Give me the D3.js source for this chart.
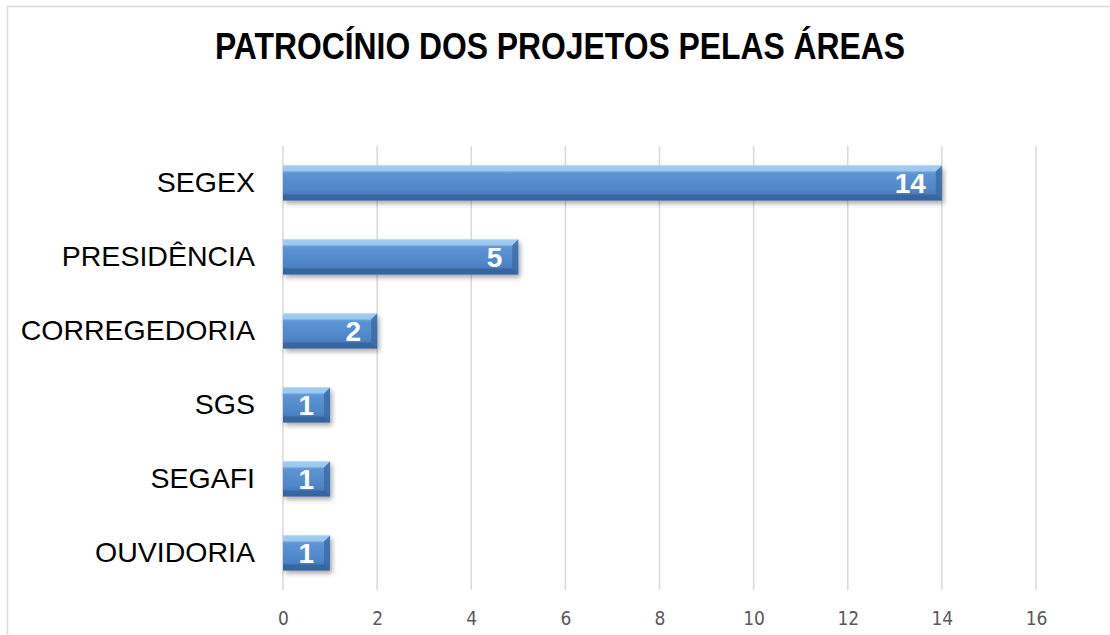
<!DOCTYPE html>
<html>
<head>
<meta charset="utf-8">
<script src="https://cdn.jsdelivr.net/npm/d3@7.9.0/dist/d3.min.js"></script>
<style>
  body { margin: 0; background: #fff; }
  svg { display: block; }
</style>
</head>
<body>
<svg width="1110" height="635"></svg>
<script>
const categories = ['SEGEX', 'PRESIDÊNCIA', 'CORREGEDORIA', 'SGS', 'SEGAFI', 'OUVIDORIA'];
const values = [14, 5, 2, 1, 1, 1];
const xTicks = [0, 2, 4, 6, 8, 10, 12, 14, 16];

const svg = d3.select('svg');

// outer frame
svg.append('rect')
  .attr('x', 7.5).attr('y', 6.5)
  .attr('width', 1110).attr('height', 640)
  .attr('fill', 'none').attr('stroke', '#d9d9d9').attr('stroke-width', 1.5);

svg.append('text')
  .attr('x', 215).attr('y', 59)
  .attr('textLength', 690)
  .attr('lengthAdjust', 'spacingAndGlyphs')
  .style('font-family', 'Liberation Sans, Arial, sans-serif')
  .style('font-weight', 'bold')
  .style('font-size', '36px')
  .text('PATROCÍNIO DOS PROJETOS PELAS ÁREAS');

const plotLeft = 283, plotRight = 1036, plotTop = 146, plotBottom = 590;

let x = d3.scaleLinear().domain([0, 16]).range([plotLeft, plotRight]);
let y = d3.scaleBand().domain(categories).range([plotTop, plotBottom]).paddingInner(0.53).paddingOuter(0.265);

let defs = svg.append('defs');
let grad = defs.append('linearGradient').attr('id', 'barGrad')
  .attr('x1', 0).attr('y1', 0).attr('x2', 0).attr('y2', 1);
grad.append('stop').attr('offset', '0%').attr('stop-color', '#8fbde9');
grad.append('stop').attr('offset', '25%').attr('stop-color', '#5b93d3');
grad.append('stop').attr('offset', '70%').attr('stop-color', '#4f86c8');
grad.append('stop').attr('offset', '100%').attr('stop-color', '#3f70ad');

let shadow = defs.append('filter').attr('id', 'shadow')
  .attr('x', '-10%').attr('y', '-20%').attr('width', '130%').attr('height', '170%');
shadow.append('feDropShadow').attr('dx', 2).attr('dy', 3).attr('stdDeviation', 2.5)
  .attr('flood-color', '#000').attr('flood-opacity', 0.35);

// gridlines
svg.append('g')
  .selectAll('line')
  .data(xTicks)
  .join('line')
  .attr('x1', d => x(d)).attr('x2', d => x(d))
  .attr('y1', plotTop).attr('y2', plotBottom)
  .attr('stroke', '#d9d9d9').attr('stroke-width', 1.5);

// x axis labels
let xAxis = svg.append('g')
  .attr('transform', `translate(0,${plotBottom})`)
  .call(d3.axisBottom(x).tickValues(xTicks).tickSize(0).tickPadding(22));
xAxis.select('.domain').remove();
xAxis.selectAll('text')
  .style('font-family', 'DejaVu Sans Condensed, Liberation Sans Narrow, sans-serif')
  .style('font-size', '19px')
  .attr('fill', '#595959');

// y labels
let yAxis = svg.append('g')
  .attr('transform', `translate(${plotLeft},0)`)
  .call(d3.axisLeft(y).tickSize(0).tickPadding(28));
yAxis.select('.domain').remove();
yAxis.selectAll('text')
  .style('font-family', 'Liberation Sans, Arial, sans-serif')
  .style('font-size', '28.5px')
  .attr('fill', '#000');

// bars with bevel
let bars = svg.append('g').selectAll('g')
  .data(categories.map((c, i) => ({ cat: c, val: values[i] })))
  .join('g');

const bev = 6;
bars.append('rect')
  .attr('x', x(0))
  .attr('y', d => y(d.cat))
  .attr('width', d => x(d.val) - x(0))
  .attr('height', y.bandwidth())
  .attr('fill', 'url(#barGrad)')
  .attr('filter', 'url(#shadow)');

// top bevel highlight
bars.append('path')
  .attr('d', d => {
    let x0 = x(0), x1 = x(d.val), y0 = y(d.cat);
    return `M${x0},${y0}L${x1},${y0}L${x1 - bev},${y0 + bev}L${x0},${y0 + bev}Z`;
  })
  .attr('fill', '#a9d2f5').attr('opacity', 0.75);

// right bevel shade
bars.append('path')
  .attr('d', d => {
    let x1 = x(d.val), y0 = y(d.cat), y1 = y0 + y.bandwidth();
    return `M${x1},${y0}L${x1},${y1}L${x1 - bev},${y1 - bev}L${x1 - bev},${y0 + bev}Z`;
  })
  .attr('fill', '#3b6aa5').attr('opacity', 0.8);

// bottom bevel shade
bars.append('path')
  .attr('d', d => {
    let x0 = x(0), x1 = x(d.val), y1 = y(d.cat) + y.bandwidth();
    return `M${x0},${y1}L${x1},${y1}L${x1 - bev},${y1 - bev}L${x0},${y1 - bev}Z`;
  })
  .attr('fill', '#335e96').attr('opacity', 0.7);

// value labels
bars.append('text')
  .attr('x', d => x(d.val) - 16)
  .attr('y', d => y(d.cat) + y.bandwidth() / 2 + 10)
  .attr('text-anchor', 'end')
  .style('font-family', 'Liberation Sans, Arial, sans-serif')
  .style('font-weight', 'bold')
  .style('font-size', '28px')
  .attr('fill', '#fff')
  .text(d => d.val);
</script>
</body>
</html>
